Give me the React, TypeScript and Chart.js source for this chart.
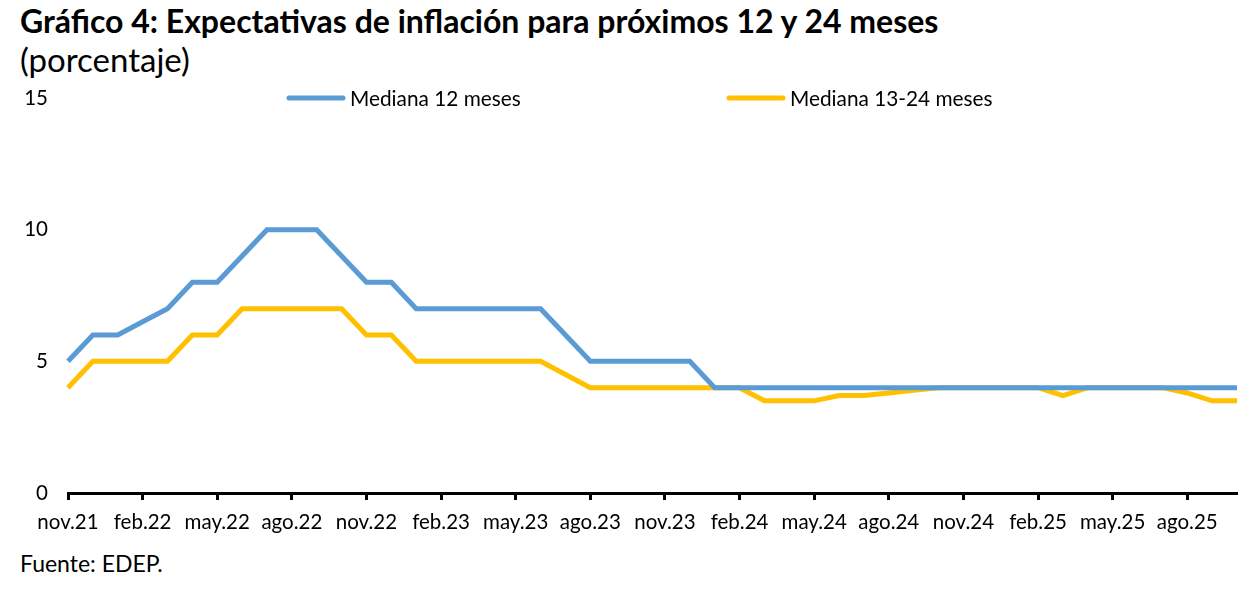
import React, { useEffect, useRef } from "react";
import { Chart, registerables } from "chart.js";

Chart.register(...registerables);

const categories: string[] = [
  "nov.21", "dic.21",
  "ene.22", "feb.22", "mar.22", "abr.22", "may.22", "jun.22", "jul.22", "ago.22", "sep.22", "oct.22", "nov.22", "dic.22",
  "ene.23", "feb.23", "mar.23", "abr.23", "may.23", "jun.23", "jul.23", "ago.23", "sep.23", "oct.23", "nov.23", "dic.23",
  "ene.24", "feb.24", "mar.24", "abr.24", "may.24", "jun.24", "jul.24", "ago.24", "sep.24", "oct.24", "nov.24", "dic.24",
  "ene.25", "feb.25", "mar.25", "abr.25", "may.25", "jun.25", "jul.25", "ago.25", "sep.25", "oct.25",
];

const mediana12: number[] = [
  5, 6, 6, 6.5, 7, 8, 8, 9, 10, 10, 10, 9, 8, 8,
  7, 7, 7, 7, 7, 7, 6, 5, 5, 5, 5, 5,
  4, 4, 4, 4, 4, 4, 4, 4, 4, 4, 4, 4,
  4, 4, 4, 4, 4, 4, 4, 4, 4, 4,
];

const mediana1324: number[] = [
  4, 5, 5, 5, 5, 6, 6, 7, 7, 7, 7, 7, 6, 6,
  5, 5, 5, 5, 5, 5, 4.5, 4, 4, 4, 4, 4,
  4, 4, 3.5, 3.5, 3.5, 3.7, 3.7, 3.8, 3.9, 4, 4, 4,
  4, 4, 3.7, 4, 4, 4, 4, 3.8, 3.5, 3.5,
];

const seriesNames: string[] = ["Mediana 12 meses", "Mediana 13-24 meses"];
const yTicks: number[] = [0, 5, 10, 15];

const FONT = "Lato";

const inlineLegend = {
  id: "inlineLegend",
  afterDraw(chart: any) {
    const { ctx, chartArea } = chart;
    const starts = [chartArea.left + 219, chartArea.left + 659];
    const y = chartArea.top;
    ctx.save();
    chart.data.datasets.forEach((ds: any, i: number) => {
      const x0 = starts[i];
      ctx.beginPath();
      ctx.strokeStyle = ds.borderColor;
      ctx.lineWidth = 5;
      ctx.lineCap = "round";
      ctx.moveTo(x0 + 2, y);
      ctx.lineTo(x0 + 56, y);
      ctx.stroke();
      ctx.fillStyle = "#000";
      ctx.font = `20.8px ${FONT}`;
      ctx.textBaseline = "middle";
      ctx.textAlign = "left";
      ctx.fillText(ds.label, x0 + 63, y + 1);
    });
    ctx.restore();
  },
};

export default function App() {
  const canvasRef = useRef<HTMLCanvasElement | null>(null);

  useEffect(() => {
    if (!canvasRef.current) return;
    const chart = new Chart(canvasRef.current, {
      type: "line",
      data: {
        labels: categories,
        datasets: [
          {
            label: seriesNames[0],
            data: mediana12,
            borderColor: "#5B9BD5",
            backgroundColor: "#5B9BD5",
            borderWidth: 5,
            pointRadius: 0,
            tension: 0,
          },
          {
            label: seriesNames[1],
            data: mediana1324,
            borderColor: "#FFC000",
            backgroundColor: "#FFC000",
            borderWidth: 5,
            pointRadius: 0,
            tension: 0,
          },
        ],
      },
      options: {
        responsive: false,
        animation: false,
        devicePixelRatio: 1,
        layout: { padding: { left: 0, right: 14, top: 18, bottom: 7 } },
        plugins: {
          legend: { display: false },
          tooltip: { enabled: false },
          title: { display: false },
        },
        scales: {
          x: {
            offset: false,
            afterFit: (s: any) => {
              s.height = 40;
            },
            border: { display: true, color: "#000", width: 3 },
            grid: {
              display: true,
              drawOnChartArea: false,
              drawTicks: true,
              tickLength: 7,
              tickWidth: 3,
              tickColor: (c: any) => (c.index % 3 === 0 ? "#000" : "rgba(0,0,0,0)"),
              color: "rgba(0,0,0,0)",
            },
            ticks: {
              autoSkip: false,
              maxRotation: 0,
              minRotation: 0,
              padding: 10,
              color: "#000",
              font: { family: FONT, size: 20.5 },
              callback: (_v: any, i: number) => (i % 3 === 0 ? categories[i] : ""),
            },
          },
          y: {
            min: 0,
            max: 15,
            afterFit: (s: any) => {
              s.width = 68;
            },
            afterBuildTicks: (s: any) => {
              s.ticks = yTicks.map((v) => ({ value: v }));
            },
            border: { display: false },
            grid: {
              display: true,
              drawOnChartArea: false,
              drawTicks: true,
              tickLength: 19,
              color: "rgba(0,0,0,0)",
              tickColor: "rgba(0,0,0,0)",
            },
            ticks: {
              padding: 1,
              color: "#000",
              font: { family: FONT, size: 20.5 },
            },
          },
        },
      },
      plugins: [inlineLegend],
    });
    return () => chart.destroy();
  }, []);

  const textBase: React.CSSProperties = {
    position: "absolute",
    left: 20,
    margin: 0,
    lineHeight: 1,
    whiteSpace: "nowrap",
    color: "#000",
    fontFamily: FONT,
  };

  return (
    <div style={{ position: "absolute", left: 0, top: 0, width: 1251, height: 616, background: "#fff", overflow: "hidden" }}>
      <div style={{ ...textBase, top: 5, fontSize: 32, fontWeight: 700 }}>
        Gráfico 4: Expectativas de inflación para próximos 12 y 24 meses
      </div>
      <div style={{ ...textBase, top: 43, fontSize: 33 }}>(porcentaje)</div>
      <canvas
        ref={canvasRef}
        width={1251}
        height={460}
        style={{ position: "absolute", left: 0, top: 80, width: 1251, height: 460 }}
      />
      <div style={{ ...textBase, top: 552, fontSize: 23 }}>Fuente: EDEP.</div>
    </div>
  );
}
